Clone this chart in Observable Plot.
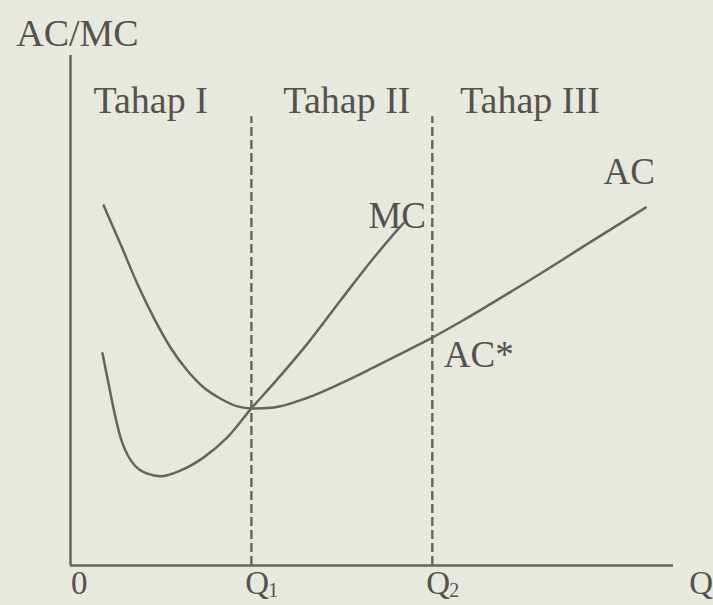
<!DOCTYPE html>
<html>
<head>
<meta charset="utf-8">
<script src="https://cdn.jsdelivr.net/npm/d3@7"></script>
<script src="https://cdn.jsdelivr.net/npm/@observablehq/plot@0.6"></script>
<style>
  html, body { margin: 0; padding: 0; background: #e7e9df; }
  #chart svg { display: block; }
</style>
</head>
<body>
<div id="chart"></div>
<script>
// ---- data (quantity Q on 0..100, cost on 0..100) ----
const acQ    = [5.5, 8.3, 11.1, 13.8, 16.6, 19.4, 22.1, 24.9, 27.7, 30.0, 33.7, 39.3, 44.8, 50.2, 55.9, 60.0, 64.7, 69.7, 77.9, 86.2, 95.4];
const acCost = [70.6, 63.0, 55.2, 48.6, 42.7, 38.2, 34.9, 32.7, 31.2, 30.8, 31.0, 32.9, 35.7, 38.8, 42.2, 44.7, 47.8, 51.3, 57.2, 63.4, 70.2];
const mcQ    = [5.3, 6.1, 7.1, 8.3, 10.0, 12.8, 14.9, 18.2, 22.1, 26.0, 30.0, 33.7, 39.3, 44.8, 50.2, 53.1, 55.2];
const mcCost = [41.6, 36.9, 31.0, 25.1, 20.6, 18.0, 17.5, 18.6, 21.2, 25.1, 30.8, 35.7, 43.5, 52.0, 60.2, 64.3, 67.1];
const stageBounds = [30, 60];            // Q1, Q2
const stageNames  = ["Tahap I", "Tahap II", "Tahap III"];
const tickValues  = [0, 30, 60];
const tickLabels  = ["0", "Q", "Q"];
const tickSubs    = ["", "1", "2"];
const curveNames  = ["AC", "MC", "AC*"];
const yTitle = "AC/MC";
const xTitle = "Q";

const ac = acQ.map((q, i) => ({q, c: acCost[i]}));
const mc = mcQ.map((q, i) => ({q, c: mcCost[i]}));

const ink = "#67635f";
const textInk = "#55514d";
const font = "Liberation Serif, Times New Roman, serif";

const stagePos = [{x: 3.8}, {x: 35.3}, {x: 64.6}];
const curveLabelPos = [{x: 88.4, y: 77.1}, {x: 49.4, y: 68.5}, {x: 61.9, y: 41.2}];

const chart = Plot.plot({
  width: 713,
  height: 605,
  marginLeft: 70,
  marginRight: 40,
  marginTop: 55,
  marginBottom: 40,
  x: {domain: [0, 100], axis: null},
  y: {domain: [0, 100], axis: null},
  style: {background: "transparent", fontFamily: font},
  marks: [
    // axes
    Plot.ruleX([0], {y1: 0, y2: 100, stroke: ink, strokeWidth: 2.5}),
    Plot.ruleY([0], {x1: 0, x2: 100, stroke: ink, strokeWidth: 2.5}),
    // stage boundaries
    Plot.ruleX(stageBounds, {y1: 0, y2: 88, stroke: ink, strokeWidth: 2.4, strokeDasharray: "9,4"}),
    // curves
    Plot.line(ac, {x: "q", y: "c", curve: "monotone-x", stroke: ink, strokeWidth: 2.5}),
    Plot.line(mc, {x: "q", y: "c", curve: "monotone-x", stroke: ink, strokeWidth: 2.5}),
    // stage labels
    Plot.text(stageNames, {x: (d, i) => stagePos[i].x, y: 91.1, text: d => d, textAnchor: "start", lineAnchor: "middle", fontSize: 38, fill: textInk}),
    // curve labels
    Plot.text(curveNames, {x: (d, i) => curveLabelPos[i].x, y: (d, i) => curveLabelPos[i].y, text: d => d, textAnchor: "start", lineAnchor: "middle", fontSize: 37, fill: textInk}),
    // axis titles
    Plot.text([yTitle], {x: -9.0, y: 104.3, text: d => d, textAnchor: "start", lineAnchor: "middle", fontSize: 38, fill: textInk}),
    Plot.text([xTitle], {x: 102.6, y: -3.6, text: d => d, textAnchor: "start", lineAnchor: "middle", fontSize: 33, fill: textInk}),
    // tick labels
    Plot.text(tickValues, {x: (d, i) => d + (i === 0 ? 0.1 : -1.0), y: -3.6, text: (d, i) => tickLabels[i], textAnchor: "start", lineAnchor: "middle", fontSize: 33, fill: textInk}),
    Plot.text(tickValues.filter((d, i) => tickSubs[i]), {x: d => d + 2.8, y: -5.0, text: (d, i) => tickSubs.filter(s => s)[i], textAnchor: "start", lineAnchor: "middle", fontSize: 20, fill: textInk})
  ]
});
document.getElementById("chart").appendChild(chart);
</script>
</body>
</html>
